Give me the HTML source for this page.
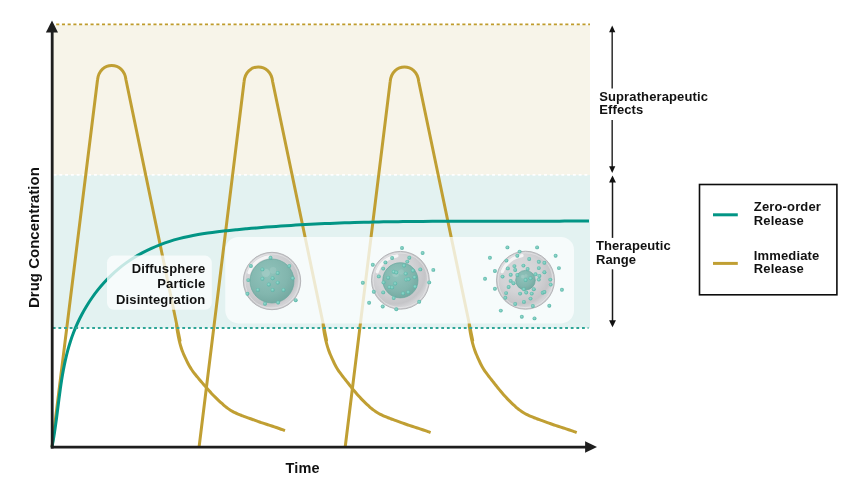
<!DOCTYPE html>
<html><head><meta charset="utf-8"><style>
html,body{margin:0;padding:0;background:#fff;width:853px;height:485px;overflow:hidden}
svg{display:block;will-change:transform}
</style></head><body>
<svg width="853" height="485" viewBox="0 0 853 485">
<defs>
<radialGradient id="shell" cx="0.4" cy="0.38" r="0.66">
<stop offset="0" stop-color="#dadadc"/><stop offset="0.5" stop-color="#d3d3d6"/><stop offset="0.8" stop-color="#c5c5c8"/><stop offset="0.9" stop-color="#d3d3d6"/><stop offset="0.97" stop-color="#cfcfd2"/><stop offset="1" stop-color="#bdbdc0"/>
</radialGradient>
<radialGradient id="core" cx="0.4" cy="0.35" r="0.7">
<stop offset="0" stop-color="#90c3bb"/><stop offset="0.65" stop-color="#82b6ae"/><stop offset="1" stop-color="#73a8a0"/>
</radialGradient>
<radialGradient id="dot" cx="0.45" cy="0.45" r="0.6">
<stop offset="0" stop-color="#98d9ce"/><stop offset="0.6" stop-color="#6cc2b4"/><stop offset="1" stop-color="#52aea1"/>
</radialGradient>
<filter id="blur1" x="-20%" y="-20%" width="140%" height="140%"><feGaussianBlur stdDeviation="0.7"/></filter>
</defs>
<rect x="53" y="25" width="537" height="150" fill="#f7f4e9"/>
<rect x="53" y="175" width="537" height="153" fill="#e3f2f1"/>
<line x1="56.2" y1="24.4" x2="590" y2="24.4" stroke="#bf9c2c" stroke-width="1.6" stroke-dasharray="3.1 2.62"/>
<line x1="53.6" y1="174.9" x2="590" y2="174.9" stroke="#ffffff" stroke-width="1.6" stroke-dasharray="2.9 2.87"/>
<path d="M52.00 447 L97.50 80.00 C99.30 60.50 124.20 60.50 126.00 80.00 L176.20 322.00 C184.62 362.80 176.39 323.86 176.49 324.79 C176.60 325.71 176.72 326.64 176.84 327.57 C176.97 328.49 177.11 329.41 177.25 330.34 C177.40 331.26 177.55 332.18 177.72 333.10 C177.88 334.02 178.05 334.93 178.23 335.85 C178.42 336.76 178.61 337.68 178.81 338.59 C179.01 339.50 179.21 340.42 179.43 341.32 C179.65 342.23 179.88 343.14 180.12 344.04 C180.37 344.95 180.62 345.84 180.89 346.74 C181.16 347.63 181.45 348.52 181.76 349.40 C182.07 350.28 182.39 351.15 182.74 352.02 C183.08 352.89 183.44 353.75 183.81 354.61 C184.18 355.46 184.57 356.31 184.96 357.16 C185.35 358.01 185.75 358.86 186.16 359.70 C186.56 360.54 186.97 361.39 187.40 362.22 C187.82 363.06 188.25 363.89 188.69 364.71 C189.14 365.53 189.60 366.34 190.08 367.14 C190.56 367.94 191.06 368.73 191.58 369.50 C192.09 370.28 192.64 371.03 193.19 371.78 C193.74 372.53 194.32 373.27 194.90 374.00 C195.48 374.74 196.07 375.46 196.67 376.18 C197.26 376.91 197.87 377.62 198.46 378.34 C199.06 379.06 199.66 379.77 200.26 380.49 C200.86 381.20 201.46 381.92 202.07 382.63 C202.67 383.35 203.27 384.06 203.87 384.77 C204.48 385.48 205.08 386.19 205.69 386.90 C206.30 387.60 206.91 388.31 207.53 389.01 C208.15 389.71 208.77 390.41 209.39 391.10 C210.02 391.80 210.65 392.48 211.29 393.17 C211.93 393.85 212.57 394.52 213.22 395.19 C213.87 395.86 214.53 396.52 215.19 397.18 C215.86 397.83 216.53 398.48 217.20 399.13 C217.88 399.77 218.56 400.41 219.24 401.05 C219.93 401.69 220.61 402.32 221.30 402.95 C221.99 403.58 222.68 404.21 223.39 404.83 C224.09 405.44 224.80 406.05 225.53 406.64 C226.25 407.23 226.99 407.80 227.75 408.35 C228.50 408.89 229.28 409.41 230.07 409.91 C230.85 410.41 231.66 410.89 232.48 411.34 C233.30 411.80 234.13 412.23 234.97 412.64 C235.80 413.05 236.65 413.45 237.51 413.82 C238.36 414.20 239.22 414.56 240.09 414.91 C240.95 415.26 241.83 415.59 242.70 415.92 C243.57 416.25 244.45 416.57 245.33 416.89 C246.21 417.21 247.09 417.52 247.97 417.83 C248.85 418.15 249.73 418.46 250.60 418.77 C251.48 419.09 252.36 419.41 253.24 419.73 C254.11 420.05 254.99 420.38 255.87 420.69 C256.74 421.01 257.62 421.33 258.50 421.64 C259.38 421.95 260.27 422.25 261.15 422.55 C262.03 422.85 262.92 423.14 263.81 423.43 C264.69 423.72 265.58 424.01 266.47 424.30 C267.36 424.59 268.25 424.87 269.14 425.16 C270.02 425.45 270.91 425.73 271.80 426.02 C272.69 426.31 273.58 426.60 274.46 426.90 C275.35 427.19 276.23 427.49 277.12 427.79 C278.00 428.09 278.88 428.40 279.76 428.72 C280.64 429.03 281.51 429.35 282.39 429.68 C283.26 430.01 284.56 430.53 285.00 430.70" fill="none" stroke="#c09f33" stroke-width="3" stroke-linejoin="round" stroke-linecap="butt"/>
<path d="M199.10 447 L244.10 81.50 C245.90 62.00 270.80 62.00 272.60 81.50 L322.80 322.00 C331.22 362.55 322.99 323.87 323.10 324.80 C323.21 325.73 323.32 326.66 323.45 327.59 C323.58 328.52 323.71 329.45 323.86 330.37 C324.00 331.30 324.16 332.23 324.32 333.15 C324.49 334.07 324.66 334.99 324.84 335.91 C325.03 336.83 325.22 337.75 325.42 338.67 C325.62 339.59 325.84 340.50 326.06 341.41 C326.28 342.32 326.51 343.23 326.76 344.14 C327.01 345.05 327.26 345.95 327.54 346.85 C327.81 347.74 328.10 348.64 328.40 349.52 C328.71 350.41 329.03 351.29 329.37 352.16 C329.70 353.04 330.06 353.91 330.42 354.77 C330.78 355.64 331.16 356.50 331.54 357.36 C331.92 358.21 332.31 359.07 332.70 359.92 C333.10 360.78 333.50 361.63 333.91 362.47 C334.32 363.32 334.73 364.16 335.17 364.99 C335.60 365.83 336.05 366.65 336.51 367.46 C336.98 368.28 337.46 369.08 337.97 369.87 C338.48 370.65 339.01 371.43 339.55 372.19 C340.09 372.96 340.65 373.71 341.22 374.45 C341.78 375.20 342.37 375.94 342.95 376.68 C343.53 377.42 344.12 378.15 344.71 378.88 C345.29 379.62 345.88 380.35 346.46 381.09 C347.04 381.82 347.62 382.56 348.20 383.30 C348.78 384.03 349.36 384.77 349.94 385.51 C350.52 386.24 351.11 386.98 351.69 387.71 C352.27 388.44 352.86 389.18 353.45 389.91 C354.04 390.63 354.64 391.36 355.24 392.08 C355.84 392.80 356.44 393.52 357.05 394.23 C357.67 394.94 358.29 395.64 358.92 396.34 C359.55 397.03 360.19 397.72 360.84 398.40 C361.48 399.07 362.14 399.74 362.81 400.40 C363.47 401.06 364.14 401.72 364.82 402.37 C365.50 403.02 366.18 403.66 366.87 404.30 C367.56 404.94 368.25 405.58 368.95 406.21 C369.65 406.83 370.35 407.46 371.07 408.06 C371.78 408.67 372.51 409.26 373.25 409.83 C374.00 410.40 374.76 410.95 375.53 411.48 C376.31 412.00 377.11 412.50 377.92 412.98 C378.72 413.45 379.55 413.91 380.38 414.34 C381.21 414.78 382.06 415.19 382.91 415.58 C383.76 415.98 384.62 416.35 385.49 416.72 C386.35 417.08 387.22 417.43 388.10 417.77 C388.97 418.11 389.85 418.43 390.73 418.76 C391.61 419.08 392.50 419.39 393.38 419.71 C394.26 420.03 395.15 420.34 396.03 420.65 C396.91 420.97 397.80 421.29 398.68 421.61 C399.56 421.93 400.44 422.25 401.32 422.58 C402.20 422.90 403.08 423.22 403.97 423.53 C404.85 423.85 405.73 424.16 406.62 424.46 C407.51 424.77 408.40 425.07 409.29 425.36 C410.18 425.66 411.07 425.95 411.96 426.24 C412.85 426.53 413.74 426.82 414.64 427.11 C415.53 427.39 416.42 427.68 417.32 427.97 C418.21 428.26 419.10 428.55 419.99 428.84 C420.88 429.13 421.77 429.43 422.66 429.73 C423.55 430.03 424.44 430.34 425.32 430.65 C426.21 430.96 427.09 431.27 427.97 431.60 C428.85 431.93 430.16 432.43 430.60 432.60" fill="none" stroke="#c09f33" stroke-width="3" stroke-linejoin="round" stroke-linecap="butt"/>
<path d="M345.20 447 L390.20 81.50 C392.00 62.00 416.90 62.00 418.70 81.50 L468.90 322.00 C477.32 362.55 469.09 323.87 469.20 324.80 C469.31 325.73 469.42 326.66 469.55 327.59 C469.68 328.52 469.81 329.45 469.96 330.37 C470.10 331.30 470.26 332.23 470.42 333.15 C470.59 334.07 470.76 334.99 470.94 335.91 C471.13 336.83 471.32 337.75 471.52 338.67 C471.72 339.59 471.94 340.50 472.16 341.41 C472.38 342.32 472.61 343.23 472.86 344.14 C473.11 345.05 473.36 345.95 473.64 346.85 C473.91 347.74 474.20 348.64 474.50 349.52 C474.81 350.41 475.13 351.29 475.47 352.16 C475.80 353.04 476.16 353.91 476.52 354.77 C476.88 355.64 477.26 356.50 477.64 357.36 C478.02 358.21 478.41 359.07 478.80 359.92 C479.20 360.78 479.60 361.63 480.01 362.47 C480.42 363.32 480.83 364.16 481.27 364.99 C481.70 365.83 482.15 366.65 482.61 367.46 C483.08 368.28 483.56 369.08 484.07 369.87 C484.58 370.65 485.11 371.43 485.65 372.19 C486.19 372.96 486.75 373.71 487.32 374.45 C487.88 375.20 488.47 375.94 489.05 376.68 C489.63 377.42 490.22 378.15 490.81 378.88 C491.39 379.62 491.98 380.35 492.56 381.09 C493.14 381.82 493.72 382.56 494.30 383.30 C494.88 384.03 495.46 384.77 496.04 385.51 C496.62 386.24 497.21 386.98 497.79 387.71 C498.37 388.44 498.96 389.18 499.55 389.91 C500.14 390.63 500.74 391.36 501.34 392.08 C501.94 392.80 502.54 393.52 503.15 394.23 C503.77 394.94 504.39 395.64 505.02 396.34 C505.65 397.03 506.29 397.72 506.94 398.40 C507.58 399.07 508.24 399.74 508.91 400.40 C509.57 401.06 510.24 401.72 510.92 402.37 C511.60 403.02 512.28 403.66 512.97 404.30 C513.66 404.94 514.35 405.58 515.05 406.21 C515.75 406.83 516.45 407.46 517.17 408.06 C517.88 408.67 518.61 409.26 519.35 409.83 C520.10 410.40 520.86 410.95 521.63 411.48 C522.41 412.00 523.21 412.50 524.02 412.98 C524.82 413.45 525.65 413.91 526.48 414.34 C527.31 414.78 528.16 415.19 529.01 415.58 C529.86 415.98 530.72 416.35 531.59 416.72 C532.45 417.08 533.32 417.43 534.20 417.77 C535.07 418.11 535.95 418.43 536.83 418.76 C537.71 419.08 538.60 419.39 539.48 419.71 C540.36 420.03 541.25 420.34 542.13 420.65 C543.01 420.97 543.90 421.29 544.78 421.61 C545.66 421.93 546.54 422.25 547.42 422.58 C548.30 422.90 549.18 423.22 550.07 423.53 C550.95 423.85 551.83 424.16 552.72 424.46 C553.61 424.77 554.50 425.07 555.39 425.36 C556.28 425.66 557.17 425.95 558.06 426.24 C558.95 426.53 559.84 426.82 560.74 427.11 C561.63 427.39 562.52 427.68 563.42 427.97 C564.31 428.26 565.20 428.55 566.09 428.84 C566.98 429.13 567.87 429.43 568.76 429.73 C569.65 430.03 570.54 430.34 571.42 430.65 C572.31 430.96 573.19 431.27 574.07 431.60 C574.95 431.93 576.26 432.43 576.70 432.60" fill="none" stroke="#c09f33" stroke-width="3" stroke-linejoin="round" stroke-linecap="butt"/>
<path d="M52.00 447.00 C52.29 445.42 53.18 440.68 53.71 437.49 C54.24 434.31 54.72 431.11 55.19 427.89 C55.66 424.68 56.09 421.45 56.52 418.22 C56.94 414.99 57.34 411.75 57.76 408.50 C58.17 405.26 58.57 402.01 58.99 398.76 C59.42 395.51 59.84 392.26 60.30 389.02 C60.76 385.78 61.23 382.54 61.75 379.31 C62.26 376.08 62.81 372.86 63.41 369.65 C64.02 366.44 64.66 363.24 65.37 360.06 C66.09 356.89 66.85 353.72 67.70 350.58 C68.56 347.44 69.47 344.32 70.48 341.22 C71.49 338.13 72.58 335.06 73.77 332.02 C74.96 328.98 76.23 325.97 77.60 323.00 C78.96 320.03 80.41 317.09 81.95 314.21 C83.49 311.33 85.11 308.48 86.82 305.70 C88.52 302.92 90.32 300.18 92.19 297.51 C94.06 294.84 96.01 292.22 98.05 289.68 C100.08 287.14 102.20 284.66 104.39 282.27 C106.58 279.87 108.85 277.54 111.19 275.30 C113.54 273.06 115.96 270.90 118.46 268.83 C120.95 266.76 123.53 264.78 126.16 262.90 C128.79 261.01 131.50 259.21 134.26 257.50 C137.02 255.80 139.84 254.18 142.71 252.65 C145.58 251.12 148.50 249.69 151.46 248.34 C154.42 246.99 157.43 245.74 160.46 244.57 C163.50 243.40 166.57 242.33 169.67 241.34 C172.76 240.35 175.89 239.46 179.03 238.64 C182.17 237.82 185.34 237.09 188.53 236.41 C191.71 235.73 194.91 235.13 198.12 234.57 C201.34 234.01 204.57 233.52 207.80 233.06 C211.04 232.59 214.28 232.18 217.53 231.79 C220.78 231.39 224.04 231.03 227.30 230.68 C230.55 230.33 233.81 230.00 237.07 229.68 C240.32 229.36 243.58 229.05 246.84 228.75 C250.09 228.46 253.35 228.17 256.60 227.90 C259.86 227.62 263.12 227.36 266.37 227.10 C269.63 226.85 272.88 226.61 276.14 226.38 C279.39 226.15 282.65 225.93 285.90 225.71 C289.16 225.50 292.41 225.30 295.67 225.11 C298.92 224.92 302.18 224.73 305.43 224.56 C308.69 224.39 311.94 224.22 315.20 224.06 C318.45 223.91 321.71 223.76 324.96 223.62 C328.22 223.48 331.47 223.35 334.73 223.22 C337.98 223.10 341.24 222.98 344.49 222.87 C347.75 222.76 351.00 222.66 354.26 222.57 C357.51 222.47 360.77 222.38 364.03 222.30 C367.28 222.22 370.54 222.14 373.79 222.07 C377.05 222.00 380.30 221.93 383.56 221.87 C386.81 221.81 390.07 221.76 393.33 221.71 C396.58 221.66 399.84 221.62 403.09 221.57 C406.35 221.53 409.61 221.50 412.86 221.47 C416.12 221.43 419.38 221.41 422.63 221.38 C425.89 221.36 429.15 221.34 432.40 221.32 C435.66 221.30 438.92 221.28 442.18 221.27 C445.43 221.26 448.69 221.25 451.95 221.24 C455.21 221.23 458.47 221.23 461.73 221.22 C464.98 221.22 468.24 221.22 471.50 221.22 C474.76 221.21 478.02 221.21 481.28 221.22 C484.54 221.22 487.80 221.22 491.06 221.22 C494.32 221.22 497.58 221.22 500.85 221.22 C504.11 221.23 507.37 221.23 510.63 221.23 C513.89 221.23 517.15 221.23 520.42 221.23 C523.68 221.23 526.94 221.23 530.21 221.22 C533.47 221.22 536.73 221.22 540.00 221.21 C543.26 221.20 546.53 221.19 549.79 221.18 C553.06 221.17 556.32 221.16 559.59 221.14 C562.86 221.12 566.12 221.10 569.39 221.08 C572.66 221.06 575.93 221.03 579.19 221.00 C582.46 220.97 587.37 220.92 589.00 220.90" fill="none" stroke="#029585" stroke-width="3"/>
<line x1="52.8" y1="328" x2="588.5" y2="328" stroke="#2fa698" stroke-width="2.1" stroke-dasharray="2.8 2.83"/>
<rect x="225.3" y="237" width="348.7" height="86.4" rx="13" fill="#fbfefe" fill-opacity="0.78"/>
<rect x="107" y="255.6" width="104.8" height="54.2" rx="7" fill="#fbfefe" fill-opacity="0.78"/>
<circle cx="272.0" cy="281.0" r="28.7" fill="url(#shell)" stroke="#afafb2" stroke-width="0.9"/>
<circle cx="272.0" cy="281.0" r="27.1" fill="none" stroke="#ffffff" stroke-width="1" stroke-opacity="0.35"/>
<path d="M248.98 272.62 A24.50 24.50 0 0 1 268.59 256.74" fill="none" stroke="#ffffff" stroke-width="3.2" stroke-opacity="0.75" stroke-linecap="round" filter="url(#blur1)"/>
<circle cx="272.0" cy="281.0" r="22.0" fill="url(#core)" stroke="#66a69c" stroke-width="0.7"/>
<circle cx="265.8" cy="272.9" r="4.2" fill="#ffffff" fill-opacity="0.14"/>
<circle cx="273.1" cy="270.4" r="3.3" fill="#ffffff" fill-opacity="0.1"/>
<circle cx="270.5" cy="257.7" r="1.95" fill="url(#dot)"/>
<circle cx="250.9" cy="266.0" r="1.95" fill="url(#dot)"/>
<circle cx="289.3" cy="266.0" r="1.95" fill="url(#dot)"/>
<circle cx="262.4" cy="269.4" r="1.95" fill="url(#dot)"/>
<circle cx="277.7" cy="273.0" r="1.95" fill="url(#dot)"/>
<circle cx="272.6" cy="278.2" r="1.95" fill="url(#dot)"/>
<circle cx="262.4" cy="278.8" r="1.95" fill="url(#dot)"/>
<circle cx="248.3" cy="280.1" r="1.95" fill="url(#dot)"/>
<circle cx="292.7" cy="278.2" r="1.95" fill="url(#dot)"/>
<circle cx="277.7" cy="282.6" r="1.95" fill="url(#dot)"/>
<circle cx="268.8" cy="284.5" r="1.95" fill="url(#dot)"/>
<circle cx="257.9" cy="289.9" r="1.95" fill="url(#dot)"/>
<circle cx="272.6" cy="289.9" r="1.95" fill="url(#dot)"/>
<circle cx="283.5" cy="289.9" r="1.95" fill="url(#dot)"/>
<circle cx="247.4" cy="293.8" r="1.95" fill="url(#dot)"/>
<circle cx="265.0" cy="303.7" r="1.95" fill="url(#dot)"/>
<circle cx="278.1" cy="302.5" r="1.95" fill="url(#dot)"/>
<circle cx="295.7" cy="300.2" r="1.95" fill="url(#dot)"/>
<circle cx="400.4" cy="280.3" r="28.9" fill="url(#shell)" stroke="#afafb2" stroke-width="0.9"/>
<circle cx="400.4" cy="280.3" r="27.3" fill="none" stroke="#ffffff" stroke-width="1" stroke-opacity="0.35"/>
<path d="M377.19 271.85 A24.70 24.70 0 0 1 396.96 255.84" fill="none" stroke="#ffffff" stroke-width="3.2" stroke-opacity="0.75" stroke-linecap="round" filter="url(#blur1)"/>
<circle cx="400.4" cy="280.3" r="17.6" fill="url(#core)" stroke="#66a69c" stroke-width="0.7"/>
<circle cx="395.5" cy="273.8" r="3.3" fill="#ffffff" fill-opacity="0.14"/>
<circle cx="401.3" cy="271.9" r="2.6" fill="#ffffff" fill-opacity="0.1"/>
<circle cx="402.0" cy="248.0" r="1.95" fill="url(#dot)"/>
<circle cx="422.6" cy="253.0" r="1.95" fill="url(#dot)"/>
<circle cx="392.1" cy="258.0" r="1.95" fill="url(#dot)"/>
<circle cx="409.3" cy="257.7" r="1.95" fill="url(#dot)"/>
<circle cx="385.4" cy="262.4" r="1.95" fill="url(#dot)"/>
<circle cx="407.3" cy="261.6" r="1.95" fill="url(#dot)"/>
<circle cx="372.8" cy="264.7" r="1.95" fill="url(#dot)"/>
<circle cx="404.1" cy="265.5" r="1.95" fill="url(#dot)"/>
<circle cx="383.2" cy="268.6" r="1.95" fill="url(#dot)"/>
<circle cx="420.3" cy="269.4" r="1.95" fill="url(#dot)"/>
<circle cx="433.3" cy="269.9" r="1.95" fill="url(#dot)"/>
<circle cx="412.9" cy="270.5" r="1.95" fill="url(#dot)"/>
<circle cx="393.7" cy="271.7" r="1.95" fill="url(#dot)"/>
<circle cx="396.3" cy="272.5" r="1.95" fill="url(#dot)"/>
<circle cx="405.7" cy="273.6" r="1.95" fill="url(#dot)"/>
<circle cx="378.8" cy="276.4" r="1.95" fill="url(#dot)"/>
<circle cx="388.2" cy="277.7" r="1.95" fill="url(#dot)"/>
<circle cx="414.5" cy="277.2" r="1.95" fill="url(#dot)"/>
<circle cx="406.2" cy="279.6" r="1.95" fill="url(#dot)"/>
<circle cx="408.5" cy="279.3" r="1.95" fill="url(#dot)"/>
<circle cx="362.8" cy="282.7" r="1.95" fill="url(#dot)"/>
<circle cx="383.5" cy="282.4" r="1.95" fill="url(#dot)"/>
<circle cx="429.2" cy="282.4" r="1.95" fill="url(#dot)"/>
<circle cx="395.2" cy="283.5" r="1.95" fill="url(#dot)"/>
<circle cx="389.4" cy="287.1" r="1.95" fill="url(#dot)"/>
<circle cx="392.1" cy="287.4" r="1.95" fill="url(#dot)"/>
<circle cx="415.1" cy="286.6" r="1.95" fill="url(#dot)"/>
<circle cx="373.8" cy="291.8" r="1.95" fill="url(#dot)"/>
<circle cx="383.2" cy="292.4" r="1.95" fill="url(#dot)"/>
<circle cx="403.1" cy="293.4" r="1.95" fill="url(#dot)"/>
<circle cx="408.2" cy="292.1" r="1.95" fill="url(#dot)"/>
<circle cx="393.7" cy="298.0" r="1.95" fill="url(#dot)"/>
<circle cx="369.1" cy="302.7" r="1.95" fill="url(#dot)"/>
<circle cx="419.2" cy="301.8" r="1.95" fill="url(#dot)"/>
<circle cx="382.7" cy="306.5" r="1.95" fill="url(#dot)"/>
<circle cx="396.3" cy="309.3" r="1.95" fill="url(#dot)"/>
<circle cx="525.5" cy="280.2" r="29.0" fill="url(#shell)" stroke="#afafb2" stroke-width="0.9"/>
<circle cx="525.5" cy="280.2" r="27.4" fill="none" stroke="#ffffff" stroke-width="1" stroke-opacity="0.35"/>
<path d="M502.20 271.72 A24.80 24.80 0 0 1 522.05 255.64" fill="none" stroke="#ffffff" stroke-width="3.2" stroke-opacity="0.75" stroke-linecap="round" filter="url(#blur1)"/>
<circle cx="525.5" cy="280.2" r="9.8" fill="url(#core)" stroke="#66a69c" stroke-width="0.7"/>
<circle cx="522.8" cy="276.6" r="1.9" fill="#ffffff" fill-opacity="0.14"/>
<circle cx="526.0" cy="275.5" r="1.5" fill="#ffffff" fill-opacity="0.1"/>
<circle cx="507.4" cy="247.4" r="1.95" fill="url(#dot)"/>
<circle cx="537.1" cy="247.4" r="1.95" fill="url(#dot)"/>
<circle cx="519.6" cy="251.6" r="1.95" fill="url(#dot)"/>
<circle cx="489.9" cy="257.8" r="1.95" fill="url(#dot)"/>
<circle cx="555.6" cy="255.7" r="1.95" fill="url(#dot)"/>
<circle cx="517.3" cy="255.7" r="1.95" fill="url(#dot)"/>
<circle cx="506.4" cy="260.6" r="1.95" fill="url(#dot)"/>
<circle cx="529.2" cy="259.0" r="1.95" fill="url(#dot)"/>
<circle cx="538.8" cy="261.8" r="1.95" fill="url(#dot)"/>
<circle cx="544.4" cy="262.8" r="1.95" fill="url(#dot)"/>
<circle cx="514.4" cy="266.1" r="1.95" fill="url(#dot)"/>
<circle cx="523.4" cy="265.6" r="1.95" fill="url(#dot)"/>
<circle cx="507.8" cy="268.4" r="1.95" fill="url(#dot)"/>
<circle cx="538.8" cy="268.1" r="1.95" fill="url(#dot)"/>
<circle cx="558.9" cy="268.1" r="1.95" fill="url(#dot)"/>
<circle cx="527.6" cy="268.9" r="1.95" fill="url(#dot)"/>
<circle cx="515.2" cy="270.0" r="1.95" fill="url(#dot)"/>
<circle cx="494.9" cy="271.0" r="1.95" fill="url(#dot)"/>
<circle cx="544.4" cy="272.2" r="1.95" fill="url(#dot)"/>
<circle cx="502.5" cy="276.6" r="1.95" fill="url(#dot)"/>
<circle cx="510.7" cy="274.7" r="1.95" fill="url(#dot)"/>
<circle cx="517.3" cy="275.0" r="1.95" fill="url(#dot)"/>
<circle cx="535.5" cy="274.3" r="1.95" fill="url(#dot)"/>
<circle cx="539.4" cy="276.0" r="1.95" fill="url(#dot)"/>
<circle cx="485.0" cy="278.8" r="1.95" fill="url(#dot)"/>
<circle cx="530.5" cy="278.3" r="1.95" fill="url(#dot)"/>
<circle cx="525.6" cy="280.0" r="1.95" fill="url(#dot)"/>
<circle cx="538.8" cy="279.6" r="1.95" fill="url(#dot)"/>
<circle cx="550.3" cy="279.6" r="1.95" fill="url(#dot)"/>
<circle cx="510.7" cy="280.9" r="1.95" fill="url(#dot)"/>
<circle cx="513.5" cy="283.2" r="1.95" fill="url(#dot)"/>
<circle cx="550.7" cy="284.6" r="1.95" fill="url(#dot)"/>
<circle cx="508.6" cy="287.0" r="1.95" fill="url(#dot)"/>
<circle cx="523.9" cy="289.2" r="1.95" fill="url(#dot)"/>
<circle cx="533.8" cy="289.2" r="1.95" fill="url(#dot)"/>
<circle cx="494.9" cy="288.7" r="1.95" fill="url(#dot)"/>
<circle cx="561.9" cy="289.8" r="1.95" fill="url(#dot)"/>
<circle cx="506.1" cy="293.1" r="1.95" fill="url(#dot)"/>
<circle cx="520.1" cy="293.6" r="1.95" fill="url(#dot)"/>
<circle cx="526.2" cy="292.5" r="1.95" fill="url(#dot)"/>
<circle cx="531.7" cy="293.6" r="1.95" fill="url(#dot)"/>
<circle cx="542.7" cy="292.8" r="1.95" fill="url(#dot)"/>
<circle cx="544.4" cy="292.0" r="1.95" fill="url(#dot)"/>
<circle cx="505.3" cy="297.8" r="1.95" fill="url(#dot)"/>
<circle cx="530.5" cy="298.6" r="1.95" fill="url(#dot)"/>
<circle cx="515.2" cy="304.0" r="1.95" fill="url(#dot)"/>
<circle cx="523.9" cy="301.9" r="1.95" fill="url(#dot)"/>
<circle cx="532.8" cy="306.0" r="1.95" fill="url(#dot)"/>
<circle cx="549.3" cy="305.7" r="1.95" fill="url(#dot)"/>
<circle cx="500.8" cy="310.6" r="1.95" fill="url(#dot)"/>
<circle cx="521.8" cy="316.7" r="1.95" fill="url(#dot)"/>
<circle cx="534.5" cy="318.4" r="1.95" fill="url(#dot)"/>
<line x1="52.2" y1="31" x2="52.2" y2="448.6" stroke="#1e1e1e" stroke-width="2.8"/>
<polygon points="52,20.5 45.9,32.6 58,32.6" fill="#1e1e1e"/>
<line x1="50.8" y1="447.1" x2="587" y2="447.1" stroke="#1e1e1e" stroke-width="2.6"/>
<polygon points="597,446.9 585.1,441.2 585.1,452.7" fill="#1e1e1e"/>
<line x1="612.2" y1="29.6" x2="612.2" y2="88.4" stroke="#3a3a3a" stroke-width="1.60"/>
<line x1="612.2" y1="119.9" x2="612.2" y2="168.9" stroke="#3a3a3a" stroke-width="1.60"/>
<polygon points="612.20,25.60 609.10,32.20 615.30,32.20" fill="#111"/>
<polygon points="612.20,172.90 609.10,166.30 615.30,166.30" fill="#111"/>
<line x1="612.5" y1="179.6" x2="612.5" y2="237.9" stroke="#1a1a1a" stroke-width="1.50"/>
<line x1="612.5" y1="269.3" x2="612.5" y2="323.2" stroke="#1a1a1a" stroke-width="1.50"/>
<polygon points="612.50,175.60 609.05,182.50 615.95,182.50" fill="#111"/>
<polygon points="612.50,327.20 609.05,320.30 615.95,320.30" fill="#111"/>
<rect x="699.5" y="184.5" width="137.4" height="110.3" fill="none" stroke="#0d0d0d" stroke-width="1.6"/>
<line x1="713" y1="214.8" x2="737.8" y2="214.8" stroke="#029585" stroke-width="3"/>
<line x1="713" y1="263.4" x2="737.8" y2="263.4" stroke="#c09f33" stroke-width="3"/>
<text x="205.3" y="272.8" font-size="13.0" text-anchor="end" fill="#111" font-family="&quot;Liberation Sans&quot;, sans-serif" font-weight="bold" letter-spacing="0.13">Diffusphere</text>
<text x="205.3" y="288.1" font-size="13.0" text-anchor="end" fill="#111" font-family="&quot;Liberation Sans&quot;, sans-serif" font-weight="bold" letter-spacing="0.13">Particle</text>
<text x="205.3" y="303.5" font-size="13.0" text-anchor="end" fill="#111" font-family="&quot;Liberation Sans&quot;, sans-serif" font-weight="bold" letter-spacing="0.13">Disintegration</text>
<text x="599.2" y="100.9" font-size="13.0" text-anchor="start" fill="#111" font-family="&quot;Liberation Sans&quot;, sans-serif" font-weight="bold" letter-spacing="0.12">Supratherapeutic</text>
<text x="599.2" y="113.6" font-size="13.0" text-anchor="start" fill="#111" font-family="&quot;Liberation Sans&quot;, sans-serif" font-weight="bold" letter-spacing="0.12">Effects</text>
<text x="595.9" y="250.2" font-size="13.0" text-anchor="start" fill="#111" font-family="&quot;Liberation Sans&quot;, sans-serif" font-weight="bold" letter-spacing="0.12">Therapeutic</text>
<text x="595.9" y="263.7" font-size="13.0" text-anchor="start" fill="#111" font-family="&quot;Liberation Sans&quot;, sans-serif" font-weight="bold" letter-spacing="0.12">Range</text>
<text x="753.8" y="210.9" font-size="13.0" text-anchor="start" fill="#111" font-family="&quot;Liberation Sans&quot;, sans-serif" font-weight="bold" letter-spacing="0.15">Zero-order</text>
<text x="753.8" y="224.8" font-size="13.0" text-anchor="start" fill="#111" font-family="&quot;Liberation Sans&quot;, sans-serif" font-weight="bold" letter-spacing="0.15">Release</text>
<text x="753.8" y="259.5" font-size="13.0" text-anchor="start" fill="#111" font-family="&quot;Liberation Sans&quot;, sans-serif" font-weight="bold" letter-spacing="0.15">Immediate</text>
<text x="753.8" y="273.0" font-size="13.0" text-anchor="start" fill="#111" font-family="&quot;Liberation Sans&quot;, sans-serif" font-weight="bold" letter-spacing="0.15">Release</text>
<text x="302.6" y="472.6" font-size="14.5" text-anchor="middle" fill="#111" font-family="&quot;Liberation Sans&quot;, sans-serif" font-weight="bold" letter-spacing="0.2">Time</text>
<text x="0" y="0" font-size="15" text-anchor="middle" fill="#111" font-family="&quot;Liberation Sans&quot;, sans-serif" font-weight="bold" transform="translate(39.3 237.6) rotate(-90)">Drug Concentration</text>
</svg>
</body></html>
